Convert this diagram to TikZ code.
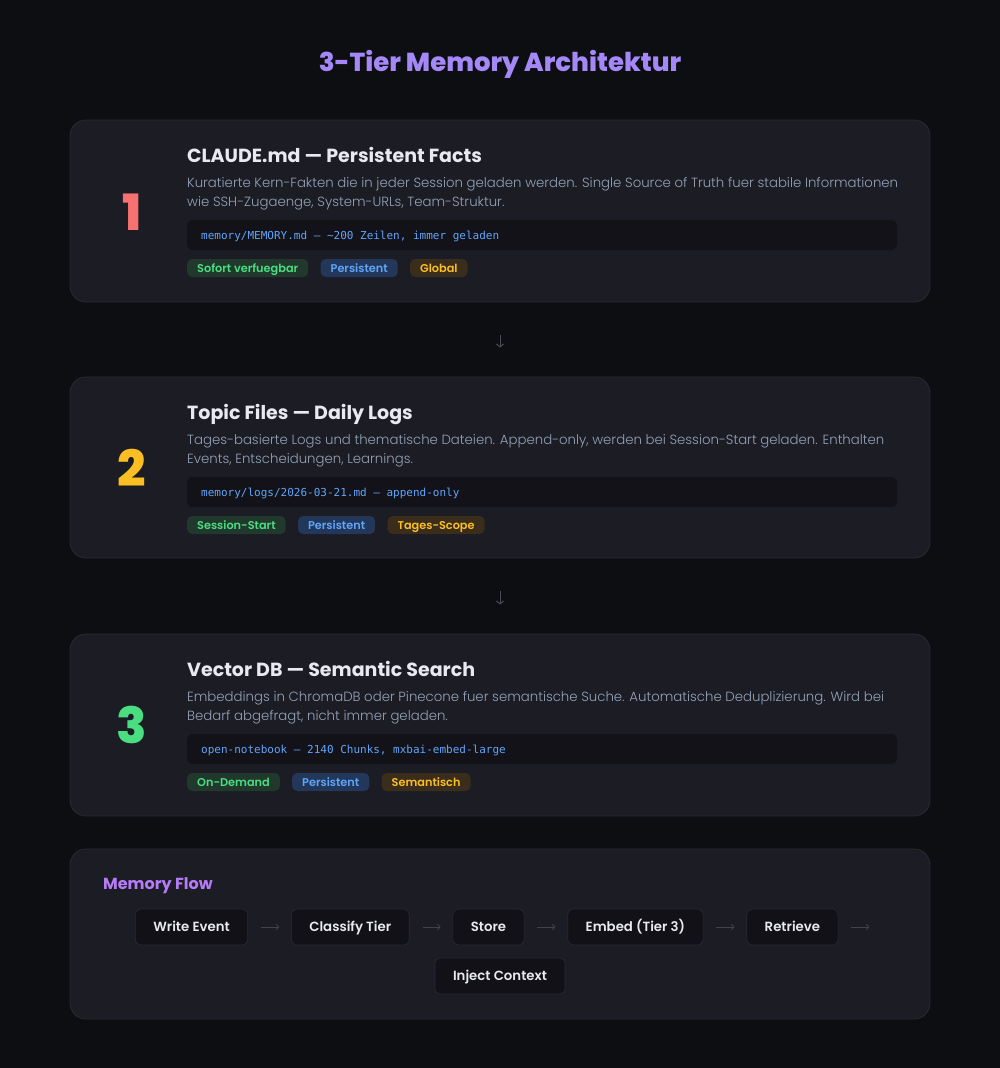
\documentclass[tikz,border=0pt]{standalone}
\usepackage{fontspec}
\setmainfont{Poppins}
\newfontfamily\lightfont{Poppins Light}
\newfontfamily\semifont{Poppins SemiBold}
\newfontfamily\heavyfont{Poppins ExtraBold}
\setmonofont{DejaVu Sans Mono}
\usetikzlibrary{positioning}
\usetikzlibrary{arrows.meta}
\definecolor{bgdark}{HTML}{0D0E12}
\definecolor{cardfill}{HTML}{1C1C24}
\definecolor{cardline}{HTML}{2A2A35}
\definecolor{codefill}{HTML}{121218}
\definecolor{headpurple}{HTML}{A488F7}
\definecolor{flowpurple}{HTML}{B67CF8}
\definecolor{titletext}{HTML}{E8EAF0}
\definecolor{desctext}{HTML}{94A3B8}
\definecolor{codeblue}{HTML}{60A5FA}
\definecolor{numred}{HTML}{F87171}
\definecolor{numamber}{HTML}{FBBF24}
\definecolor{numgreen}{HTML}{4ADE80}
\definecolor{taggreenbg}{HTML}{21382D}
\definecolor{tagbluebg}{HTML}{22375A}
\definecolor{tagamberbg}{HTML}{3A2D1C}
\definecolor{arrowgray}{HTML}{4A4B57}
\definecolor{flowfill}{HTML}{111117}

\begin{document}
\begin{tikzpicture}[x=1pt,y=-1pt,
    card/.style={draw=cardline,fill=cardfill,rounded corners=16pt,line width=0.8pt,minimum width=860pt,inner sep=0pt},
    tiernum/.style={font=\heavyfont\fontsize{50}{50}\selectfont,inner sep=0pt},
    cardtitle/.style={anchor=base west,text=titletext,font=\fontsize{19}{22}\selectfont\bfseries,inner sep=0pt},
    desc/.style={anchor=base west,text=desctext,font=\lightfont\fontsize{13.3}{16}\selectfont,inner sep=0pt},
    codebox/.style={fill=codefill,rounded corners=6pt,minimum width=710pt,minimum height=30pt,inner sep=0pt},
    codetext/.style={anchor=base west,text=codeblue,font=\ttfamily\fontsize{11}{12}\selectfont,inner sep=0pt},
    tag/.style={rounded corners=5pt,minimum height=18pt,inner xsep=10pt,inner ysep=0pt,text height=8pt,text depth=0pt,font=\semifont\fontsize{11.3}{12}\selectfont},
    greentag/.style={tag,fill=taggreenbg,text=numgreen},
    bluetag/.style={tag,fill=tagbluebg,text=codeblue},
    ambertag/.style={tag,fill=tagamberbg,text=numamber},
    tierarrow/.style={draw=arrowgray,line width=1pt,-{Straight Barb[length=3pt,width=7pt]}},
    flowbox/.style={draw=cardline,fill=flowfill,rounded corners=6pt,line width=0.6pt,minimum height=36pt,inner xsep=18pt,text height=9.5pt,text depth=0pt,text=titletext,font=\semifont\fontsize{13.3}{15}\selectfont},
    flowarrow/.style={draw=arrowgray!80!cardfill,line width=0.8pt,-{Straight Barb[length=2.5pt,width=5.5pt]}},
    node distance=43pt]
    %
    \fill[bgdark] (0,0) rectangle (1000,1068);
    \useasboundingbox (0,0) rectangle (1000,1068);
    %
    \node (head) at (500,64) [text=headpurple,font=\heavyfont\fontsize{26}{30}\selectfont] {3-Tier Memory Architektur};
    %
    % tier 1
    \node (card1) at (500,211) [card,minimum height=182pt] {};
    \node (num1) at (132,212) [tiernum,text=numred] {1};
    \node (title1) at (187,162) [cardtitle] {CLAUDE.md — Persistent Facts};
    \node (desc1a) at (187,187.5) [desc] {Kuratierte Kern-Fakten die in jeder Session geladen werden. Single Source of Truth fuer stabile Informationen};
    \node (desc1b) at (187,206) [desc] {wie SSH-Zugaenge, System-URLs, Team-Struktur.};
    \node (code1) at (542,235) [codebox] {};
    \node (codetext1) at (201,239) [codetext] {memory/MEMORY.md — \textasciitilde200 Zeilen, immer geladen};
    \node (tag1a) at (187,268) [greentag,anchor=west] {Sofort verfuegbar};
    \node (tag1b) [bluetag,right=12pt of tag1a] {Persistent};
    \node (tag1c) [ambertag,right=12pt of tag1b] {Global};
    %
    % tier 2
    \node (card2) at (500,467.5) [card,minimum height=181pt] {};
    \node (num2) at (132,468) [tiernum,text=numamber] {2};
    \node (title2) at (187,419) [cardtitle] {Topic Files — Daily Logs};
    \node (desc2a) at (187,444.5) [desc] {Tages-basierte Logs und thematische Dateien. Append-only, werden bei Session-Start geladen. Enthalten};
    \node (desc2b) at (187,463) [desc] {Events, Entscheidungen, Learnings.};
    \node (code2) at (542,492) [codebox] {};
    \node (codetext2) at (201,496) [codetext] {memory/logs/2026-03-21.md — append-only};
    \node (tag2a) at (187,525) [greentag,anchor=west] {Session-Start};
    \node (tag2b) [bluetag,right=12pt of tag2a] {Persistent};
    \node (tag2c) [ambertag,right=12pt of tag2b] {Tages-Scope};
    %
    % tier 3
    \node (card3) at (500,725) [card,minimum height=182pt] {};
    \node (num3) at (132,725) [tiernum,text=numgreen] {3};
    \node (title3) at (187,676) [cardtitle] {Vector DB — Semantic Search};
    \node (desc3a) at (187,701.5) [desc] {Embeddings in ChromaDB oder Pinecone fuer semantische Suche. Automatische Deduplizierung. Wird bei};
    \node (desc3b) at (187,720) [desc] {Bedarf abgefragt, nicht immer geladen.};
    \node (code3) at (542,749) [codebox] {};
    \node (codetext3) at (201,753) [codetext] {open-notebook — 2140 Chunks, mxbai-embed-large};
    \node (tag3a) at (187,782) [greentag,anchor=west] {On-Demand};
    \node (tag3b) [bluetag,right=12pt of tag3a] {Persistent};
    \node (tag3c) [ambertag,right=12pt of tag3b] {Semantisch};
    %
    \draw [tierarrow] ([yshift=-33pt]card1.south) -- ([yshift=29pt]card2.north);
    \draw [tierarrow] ([yshift=-33pt]card2.south) -- ([yshift=29pt]card3.north);
    %
    % memory flow
    \node (flowcard) at (500,934) [card,minimum height=170pt] {};
    \node (flowhead) at (103,889) [anchor=base west,inner sep=0pt,text=flowpurple,font=\fontsize{16}{18}\selectfont\bfseries] {Memory Flow};
    \node (write) at (135,927) [flowbox,anchor=west] {Write Event};
    \node (classify) [flowbox,right=of write] {Classify Tier};
    \node (store) [flowbox,right=of classify] {Store};
    \node (embed) [flowbox,right=of store] {Embed (Tier 3)};
    \node (retrieve) [flowbox,right=of embed] {Retrieve};
    \node (inject) at (500,976) [flowbox] {Inject Context};
    \coordinate (wrap) at ([xshift=43pt]retrieve.east);
    %
    \draw [flowarrow] ([xshift=13pt]write.east) -- ([xshift=-12pt]classify.west);
    \draw [flowarrow] ([xshift=13pt]classify.east) -- ([xshift=-12pt]store.west);
    \draw [flowarrow] ([xshift=13pt]store.east) -- ([xshift=-12pt]embed.west);
    \draw [flowarrow] ([xshift=13pt]embed.east) -- ([xshift=-12pt]retrieve.west);
    \draw [flowarrow] ([xshift=13pt]retrieve.east) -- ([xshift=-12pt]wrap);
    %
\end{tikzpicture}
\end{document}
